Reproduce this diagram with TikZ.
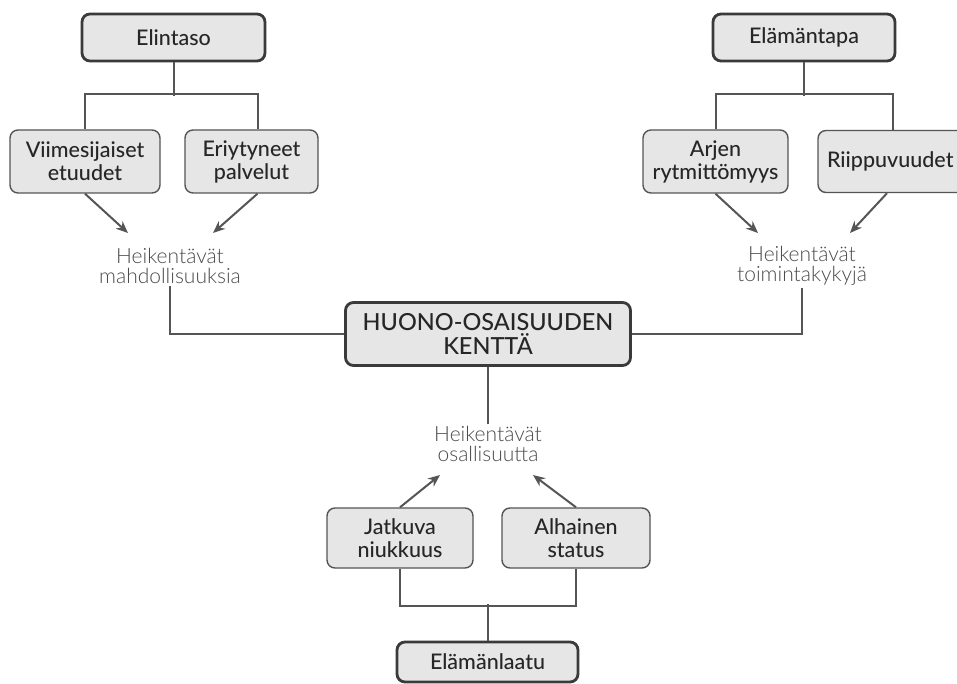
\documentclass[tikz,border=0pt]{standalone}
\usepackage{fontspec}
\setmainfont{Lato}
\newfontfamily\boxfont{Lato Medium}
\newfontfamily\lightfont{Lato Light}
\usetikzlibrary{arrows.meta}
\definecolor{boxfill}{HTML}{E6E6E6}
\definecolor{edge}{HTML}{3A3A3A}
\definecolor{wire}{HTML}{555555}
\definecolor{soft}{HTML}{4A4A4A}
\tikzset{
  base/.style={rectangle, rounded corners=8pt, fill=boxfill, inner sep=0pt, align=center, text=black!85, font=\boxfont\fontsize{21.5}{23}\selectfont},
  mainbox/.style={base, draw=edge, line width=2.8pt},
  subbox/.style={base, draw=wire, line width=1.4pt},
  effect/.style={inner sep=2pt, align=center, text=soft, font=\lightfont\fontsize{21}{20.5}\selectfont},
  wireline/.style={draw=wire, line width=2pt},
  arr/.style={wireline, -{Stealth[length=12pt,width=10pt]}}
}
\begin{document}
\begin{tikzpicture}[x=1pt,y=-1pt]
\clip (0,0) rectangle (957,684);
\fill[white] (0,0) rectangle (957,684);
% top-left
\node[mainbox, minimum width=183pt, minimum height=47pt] (elintaso) at (173.5,37.5) {Elintaso};
\node[subbox, minimum width=150pt, minimum height=63pt] (viim) at (85,161.5) {Viimesijaiset\\etuudet};
\node[subbox, minimum width=133pt, minimum height=63pt] (eriy) at (251.5,161.5) {Eriytyneet\\palvelut};
\node[effect] (h1) at (170,266) {Heikentävät\\mahdollisuuksia};
% top-right
\node[mainbox, minimum width=182pt, minimum height=47pt] (tapa) at (804,37.5) {Elämäntapa};
\node[subbox, inner xsep=9pt, text width=142pt, align=left, minimum height=62pt] (riip) at (898,161.5) {Riippuvuudet};
\node[subbox, minimum width=145pt, minimum height=63pt] (arjen) at (715.5,161.5) {Arjen\\rytmittömyys};
\node[effect] (h2) at (802,266) {Heikentävät\\toimintakykyjä};
% centre
\node[mainbox, minimum width=285pt, minimum height=63pt, font=\boxfont\fontsize{23.5}{24}\selectfont] (centre) at (488,334) {HUONO-OSAISUUDEN\\KENTTÄ};
\node[effect] (h3) at (488,444) {Heikentävät\\osallisuutta};
% bottom
\node[subbox, minimum width=146pt, minimum height=60pt] (jat) at (400,538) {Jatkuva\\niukkuus};
\node[subbox, minimum width=148pt, minimum height=60pt] (alh) at (576,538) {Alhainen\\status};
\node[mainbox, minimum width=181pt, minimum height=40pt] (laatu) at (487.5,662) {Elämänlaatu};
% arrow tips
\coordinate (t1) at (128,233);
\coordinate (t2) at (213,233);
\coordinate (t3) at (758,233);
\coordinate (t4) at (850,233);
\coordinate (t5) at (440,475);
\coordinate (t6) at (533,475);
% tree connectors
\draw[wireline] (elintaso.south) -- ++(0,34);
\draw[wireline] (viim.north) -- ++(0,-35) -| ([xshift=6pt]eriy.north);
\draw[wireline] (tapa.south) -- ++(0,34);
\draw[wireline] (arjen.north) -- ++(0,-35) -| ([xshift=-5pt]riip.north);
\draw[wireline] (jat.south) -- ++(0,37) -| (alh.south);
\draw[wireline] (laatu.north) -- ++(0,-37);
% effect links
\draw[wireline] (h1.south) |- (centre.west);
\draw[wireline] (h2.south) |- (centre.east);
\draw[wireline] (centre.south) -- (h3.north);
% arrows
\draw[arr] (viim.south) -- (t1);
\draw[arr] ([xshift=6pt]eriy.south) -- (t2);
\draw[arr] (arjen.south) -- (t3);
\draw[arr] ([xshift=-11pt]riip.south) -- (t4);
\draw[arr] (jat.north) -- (t5);
\draw[arr] (alh.north) -- (t6);
\end{tikzpicture}
\end{document}
